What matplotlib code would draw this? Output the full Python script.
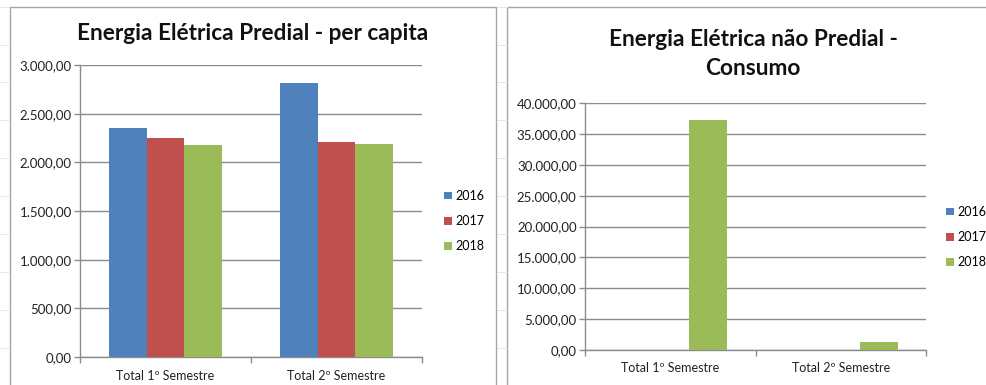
import matplotlib
matplotlib.use("Agg")
import matplotlib.pyplot as plt
from matplotlib.ticker import FuncFormatter, FixedLocator
from matplotlib.patches import Rectangle
from matplotlib.lines import Line2D

plt.rcParams['font.family'] = ['Lato', 'DejaVu Sans']

categories = ["Total 1º Semestre", "Total 2º Semestre"]
years = ["2016", "2017", "2018"]
colors = ["#4f81bd", "#c0504d", "#9bbb59"]

predial_2016 = [2356, 2818]
predial_2017 = [2253, 2205]
predial_2018 = [2181, 2192]

nao_predial_2016 = [0, 0]
nao_predial_2017 = [0, 0]
nao_predial_2018 = [37245, 1250]

title_left = "Energia Elétrica Predial - per capita"
title_right = "Energia Elétrica não Predial -\nConsumo"

W, H = 986, 385
fig = plt.figure(figsize=(W / 100, H / 100), dpi=100)
fig.patch.set_facecolor("white")

# faint spreadsheet grid background
for yy in [7, 45, 82, 120, 158, 196, 234, 272, 310, 348]:
    fig.add_artist(Line2D([0, 9 / W], [1 - yy / H] * 2, color="#e4e4e4", lw=0.6))
    fig.add_artist(Line2D([497 / W, 507 / W], [1 - yy / H] * 2, color="#e4e4e4", lw=0.6))

# chart-area borders
fig.add_artist(Rectangle((9.5 / W, -0.02), (496 - 9.5) / W, 1 - 7 / H + 0.02,
                         fill=False, ec="#a6a6a6", lw=1.0, transform=fig.transFigure))
fig.add_artist(Rectangle((507.5 / W, -0.02), (990 - 507.5) / W, 1 - 7 / H + 0.02,
                         fill=False, ec="#a6a6a6", lw=1.0, transform=fig.transFigure))


def br_fmt(v, pos):
    s = f"{v:,.2f}"
    return s.replace(",", "X").replace(".", ",").replace("X", ".")


def make_axes(rect, series, ymax, ystep, title, title_xy, legend_xy):
    ax = fig.add_axes(rect)
    n = len(series)
    w = 0.222
    for i, (vals, col, lab) in enumerate(zip(series, colors, years)):
        xs = [k + (i - (n - 1) / 2) * w for k in range(len(categories))]
        ax.bar(xs, vals, width=w, color=col, label=lab, zorder=3)
    ax.set_xlim(-0.5, len(categories) - 0.5)
    ax.set_ylim(0, ymax)
    ax.yaxis.set_major_locator(FixedLocator([ystep * k for k in range(int(ymax / ystep) + 1)]))
    ax.yaxis.set_major_formatter(FuncFormatter(br_fmt))
    ax.set_xticks(range(len(categories)))
    ax.set_xticklabels(categories)
    ax.set_xticks([-0.5, 0.5, 1.5], minor=True)
    ax.tick_params(axis="x", which="major", length=0, pad=9, labelsize=9, colors="#222222")
    ax.tick_params(axis="x", which="minor", length=4, width=1, color="#8c8c8c", direction="out")
    ax.tick_params(axis="y", length=4, width=1, color="#8c8c8c", labelsize=9.5,
                   labelcolor="#222222", pad=2)
    ax.grid(axis="y", color="#8c8c8c", lw=1.0, zorder=0)
    for sp in ["top", "right"]:
        ax.spines[sp].set_visible(False)
    for sp in ["left", "bottom"]:
        ax.spines[sp].set_color("#8c8c8c")
        ax.spines[sp].set_linewidth(1.0)
    ax.set_axisbelow(True)
    fig.text(title_xy[0] / W, 1 - title_xy[1] / H, title, ha="center", va="center",
             fontsize=16.3, fontweight="bold", color="#111111", linespacing=1.45)
    ax.legend(loc="center left", bbox_to_anchor=(legend_xy[0] / W, 1 - legend_xy[1] / H),
              bbox_transform=fig.transFigure, frameon=False, fontsize=9,
              handlelength=0.6, handleheight=0.6, handletextpad=0.35,
              labelspacing=1.05, borderpad=0, borderaxespad=0)
    return ax


make_axes([80 / W, 1 - 357 / H, 342 / W, 292 / H],
          [predial_2016, predial_2017, predial_2018], 3000, 500,
          title_left, (253, 34), (444, 221))
make_axes([585 / W, 1 - 350 / H, 341 / W, 246.7 / H],
          [nao_predial_2016, nao_predial_2017, nao_predial_2018], 40000, 5000,
          title_right, (753, 54), (946, 237))

fig.savefig("out.png", dpi=100, facecolor="white")
